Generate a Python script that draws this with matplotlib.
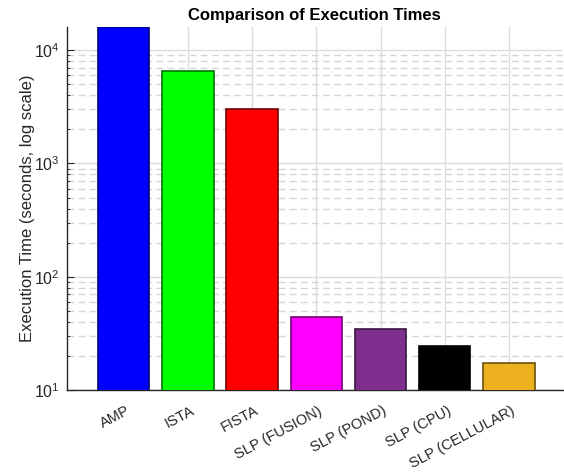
import matplotlib
matplotlib.use("Agg")
import matplotlib.pyplot as plt
import matplotlib.transforms as mtransforms
import numpy as np
from matplotlib.ticker import LogLocator, NullFormatter
from matplotlib.colors import to_rgb

plt.rcParams['font.family'] = ['Liberation Sans', 'DejaVu Sans']
plt.rcParams['mathtext.fontset'] = 'custom'
plt.rcParams['mathtext.rm'] = 'Liberation Sans'
plt.rcParams['mathtext.it'] = 'Liberation Sans:italic'
plt.rcParams['mathtext.bf'] = 'Liberation Sans:bold'

methods = ["AMP", "ISTA", "FISTA", "SLP (FUSION)", "SLP (POND)", "SLP (CPU)", "SLP (CELLULAR)"]
exec_times = [16100, 6500, 3050, 44, 34.7, 24.3, 17.2]
bar_colors = ["#0000FF", "#00FF00", "#FF0000", "#FF00FF", "#7E2F8E", "#000000", "#EDB120"]

fig = plt.figure(figsize=(5.64, 4.72), dpi=100)
ax = fig.add_axes([0.118, 0.174, 0.880, 0.769])

x = np.arange(1, len(methods) + 1)
edges = [tuple(0.45 * c for c in to_rgb(col)) for col in bar_colors]
ax.bar(x, exec_times, width=0.8, color=bar_colors, edgecolor=edges, linewidth=1.2,
       bottom=0, zorder=3)

ax.set_yscale("log")
ax.set_ylim(10, 16100)
ax.set_xlim(0.11, 7.84)

ax.yaxis.set_major_locator(LogLocator(base=10))
ax.yaxis.set_minor_locator(LogLocator(base=10, subs=np.arange(2, 10)))
ax.yaxis.set_minor_formatter(NullFormatter())

ax.grid(True, which="major", axis="both", color="#dcdcdc", linestyle="-", linewidth=1.0, zorder=0)
ax.grid(True, which="minor", axis="y", color="#d6d6d6", linestyle=(0, (5, 3)), linewidth=1.0, zorder=0)
ax.set_axisbelow(True)

ax.set_xticks(x)
ax.set_xticklabels(methods, rotation=28, ha="right", va="top", rotation_mode="anchor",
                   fontsize=10.5, color="#262626")
ax.tick_params(axis="x", length=0, pad=10)
shift = mtransforms.ScaledTranslation(2 / 100, 0, fig.dpi_scale_trans)
for lbl in ax.get_xticklabels():
    lbl.set_transform(lbl.get_transform() + shift)

ax.tick_params(axis="y", which="major", direction="in", length=5, labelsize=11.5,
               colors="#262626", pad=5)
ax.tick_params(axis="y", which="minor", direction="in", length=2.5, colors="#262626")

for side in ("top", "right"):
    ax.spines[side].set_visible(False)
for side in ("left", "bottom"):
    ax.spines[side].set_color("#262626")
    ax.spines[side].set_linewidth(1.0)

ax.set_ylabel("Execution Time (seconds, log scale)", fontsize=12, color="#262626", labelpad=-1)
ax.set_title("Comparison of Execution Times", fontsize=12, fontweight="bold", pad=5)

fig.savefig("out.png", dpi=100)
